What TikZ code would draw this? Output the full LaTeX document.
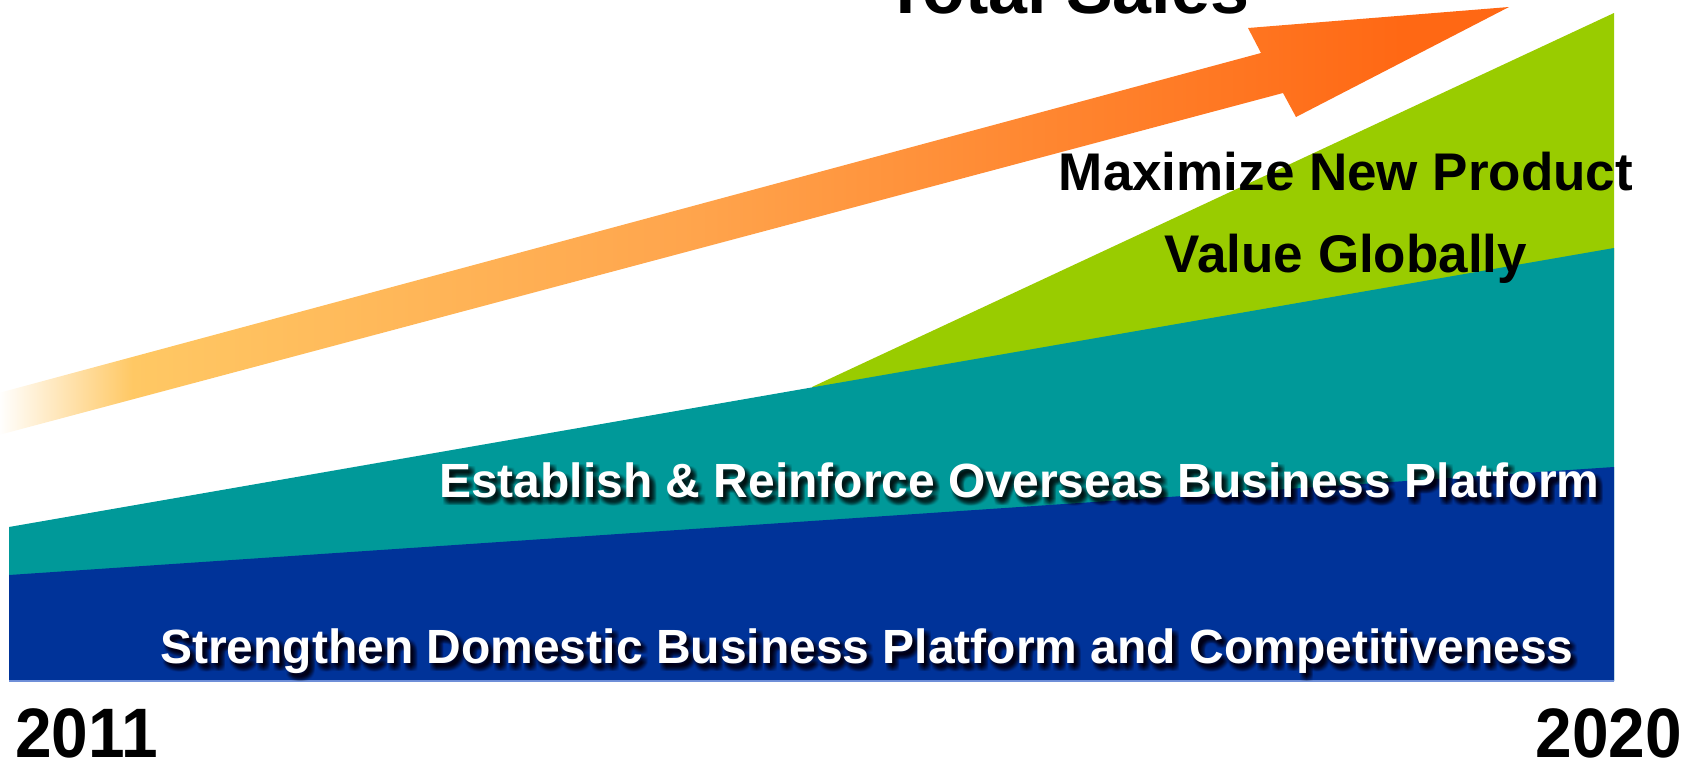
\documentclass[tikz,border=0pt]{standalone}
\usepackage{fontspec}
\setmainfont{Liberation Sans}
\definecolor{navy}{HTML}{003399}
\definecolor{tealc}{HTML}{009999}
\definecolor{lime}{HTML}{99CC00}
\definecolor{orA}{HTML}{FFC864}
\definecolor{orB}{HTML}{FFA44C}
\definecolor{orC}{HTML}{FF6814}
\definecolor{edgeblue}{HTML}{6F8FD8}
\pgfdeclarehorizontalshading{arrowshade}{100bp}{color(0bp)=(white); color(25.6bp)=(white); color(30bp)=(orA); color(48.5bp)=(orB); color(71.5bp)=(orC); color(100bp)=(orC)}
\begin{document}
\begin{tikzpicture}[x=1pt,y=-1pt,
  blk/.style={inner sep=0pt,outer sep=0pt,text=black,font=\bfseries\fontsize{53}{60}\selectfont},
  wht/.style={inner sep=0pt,outer sep=0pt,text=white,font=\bfseries\fontsize{48}{56}\selectfont},
  shd/.style={wht,text=black,opacity=0.035},
  year/.style={inner sep=0pt,outer sep=0pt,text=black,font=\bfseries\fontsize{70}{80}\selectfont}]
\useasboundingbox (0,0) rectangle (1698,761);
\clip (0,0) rectangle (1698,761);
% total sales arrow
\path[shading=arrowshade] (-20,398) -- (1261,53) -- (1248,28) -- (1509,7) -- (1296,117) -- (1283,93) -- (-20,440) -- cycle;
% layers
\fill[lime] (812,387) -- (1614,13) -- (1614,260) -- (812,400) -- cycle;
\fill[tealc] (9,527) -- (1614,248) -- (1614,681) -- (9,681) -- cycle;
\fill[navy] (9,575) -- (1614,467) -- (1614,681) -- (9,681) -- cycle;
\draw[edgeblue,line width=1.5pt] (9,681) -- (1614,681);
% titles
\node[blk,font=\bfseries\fontsize{70}{80}\selectfont,anchor=base] (total) at (1067,13) {Total Sales};
\node[blk,anchor=base] (maxi) at (1346,190) {Maximize New Product};
\node[blk,anchor=base] (value) at (1346,272) {Value Globally};
% soft shadows
\foreach \dx in {1,...,7} {
  \foreach \dy in {2,...,8} {
    \node[shd,anchor=base west] (estsh\dx\dy) at (439+\dx,497+\dy) {Establish \& Reinforce Overseas Business Platform};
    \node[shd,anchor=base west] (strsh\dx\dy) at (160+\dx,663+\dy) {Strengthen Domestic Business Platform and Competitiveness};
  }
}
\node[wht,anchor=base west] (est) at (439,497) {Establish \& Reinforce Overseas Business Platform};
\node[wht,anchor=base west] (str) at (160,663) {Strengthen Domestic Business Platform and Competitiveness};
% years
\node[year,anchor=base west] (y2011) at (15,757) {\scalebox{0.94}[1]{2011}};
\node[year,anchor=base east] (y2020) at (1682,757) {\scalebox{0.94}[1]{2020}};
\end{tikzpicture}
\end{document}
